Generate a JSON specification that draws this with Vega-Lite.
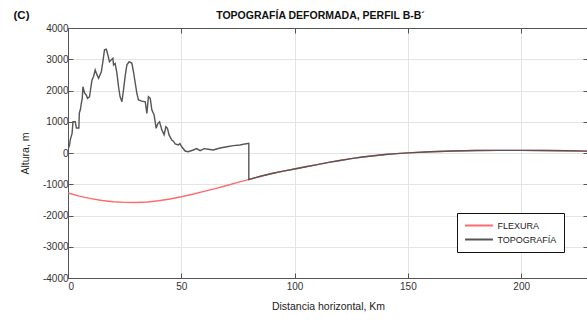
{
  "$schema": "https://vega.github.io/schema/vega-lite/v6.json",
  "autosize": "none",
  "width": 520,
  "height": 250,
  "padding": {"left": 68, "top": 28, "right": 0, "bottom": 42},
  "background": "white",
  "config": {
    "view": {"stroke": "#555", "strokeWidth": 1},
    "axis": {"labelFont": "Liberation Sans", "labelFontSize": 10, "labelColor": "#333", "titleFont": "Liberation Sans", "titleFontSize": 10.5, "titleFontWeight": "normal", "titleColor": "#222", "domainColor": "#555", "tickColor": "#555", "gridColor": "#e4e4e4", "tickSize": -5}
  },
  "data": {"values": [
    {"x": 0, "y": -1280, "s": "FLEXURA", "i": 0},
    {"x": 5, "y": -1380, "s": "FLEXURA", "i": 1},
    {"x": 10, "y": -1460, "s": "FLEXURA", "i": 2},
    {"x": 15, "y": -1520, "s": "FLEXURA", "i": 3},
    {"x": 20, "y": -1560, "s": "FLEXURA", "i": 4},
    {"x": 25, "y": -1580, "s": "FLEXURA", "i": 5},
    {"x": 30, "y": -1585, "s": "FLEXURA", "i": 6},
    {"x": 35, "y": -1570, "s": "FLEXURA", "i": 7},
    {"x": 40, "y": -1530, "s": "FLEXURA", "i": 8},
    {"x": 45, "y": -1470, "s": "FLEXURA", "i": 9},
    {"x": 50, "y": -1400, "s": "FLEXURA", "i": 10},
    {"x": 55, "y": -1320, "s": "FLEXURA", "i": 11},
    {"x": 60, "y": -1230, "s": "FLEXURA", "i": 12},
    {"x": 65, "y": -1140, "s": "FLEXURA", "i": 13},
    {"x": 70, "y": -1040, "s": "FLEXURA", "i": 14},
    {"x": 75, "y": -940, "s": "FLEXURA", "i": 15},
    {"x": 80, "y": -845, "s": "FLEXURA", "i": 16},
    {"x": 85, "y": -745, "s": "FLEXURA", "i": 17},
    {"x": 90, "y": -655, "s": "FLEXURA", "i": 18},
    {"x": 95, "y": -580, "s": "FLEXURA", "i": 19},
    {"x": 100, "y": -510, "s": "FLEXURA", "i": 20},
    {"x": 105, "y": -440, "s": "FLEXURA", "i": 21},
    {"x": 110, "y": -370, "s": "FLEXURA", "i": 22},
    {"x": 115, "y": -300, "s": "FLEXURA", "i": 23},
    {"x": 120, "y": -240, "s": "FLEXURA", "i": 24},
    {"x": 125, "y": -180, "s": "FLEXURA", "i": 25},
    {"x": 130, "y": -130, "s": "FLEXURA", "i": 26},
    {"x": 135, "y": -90, "s": "FLEXURA", "i": 27},
    {"x": 140, "y": -50, "s": "FLEXURA", "i": 28},
    {"x": 145, "y": -20, "s": "FLEXURA", "i": 29},
    {"x": 150, "y": 5, "s": "FLEXURA", "i": 30},
    {"x": 160, "y": 40, "s": "FLEXURA", "i": 31},
    {"x": 170, "y": 65, "s": "FLEXURA", "i": 32},
    {"x": 180, "y": 80, "s": "FLEXURA", "i": 33},
    {"x": 190, "y": 85, "s": "FLEXURA", "i": 34},
    {"x": 200, "y": 85, "s": "FLEXURA", "i": 35},
    {"x": 210, "y": 80, "s": "FLEXURA", "i": 36},
    {"x": 220, "y": 70, "s": "FLEXURA", "i": 37},
    {"x": 230, "y": 60, "s": "FLEXURA", "i": 38},

    {"x": 0.2, "y": 150, "s": "TOPOGRAFÍA", "i": 100},
    {"x": 0.7, "y": 260, "s": "TOPOGRAFÍA", "i": 101},
    {"x": 1, "y": 420, "s": "TOPOGRAFÍA", "i": 102},
    {"x": 1.8, "y": 630, "s": "TOPOGRAFÍA", "i": 103},
    {"x": 2.2, "y": 1000, "s": "TOPOGRAFÍA", "i": 104},
    {"x": 3.2, "y": 1000, "s": "TOPOGRAFÍA", "i": 105},
    {"x": 3.7, "y": 800, "s": "TOPOGRAFÍA", "i": 106},
    {"x": 4.8, "y": 800, "s": "TOPOGRAFÍA", "i": 107},
    {"x": 5, "y": 1280, "s": "TOPOGRAFÍA", "i": 108},
    {"x": 5.5, "y": 1400, "s": "TOPOGRAFÍA", "i": 109},
    {"x": 5.9, "y": 1600, "s": "TOPOGRAFÍA", "i": 110},
    {"x": 6.3, "y": 1750, "s": "TOPOGRAFÍA", "i": 111},
    {"x": 6.6, "y": 2120, "s": "TOPOGRAFÍA", "i": 112},
    {"x": 7.3, "y": 1920, "s": "TOPOGRAFÍA", "i": 113},
    {"x": 8.1, "y": 1850, "s": "TOPOGRAFÍA", "i": 114},
    {"x": 8.6, "y": 1750, "s": "TOPOGRAFÍA", "i": 115},
    {"x": 9.5, "y": 1800, "s": "TOPOGRAFÍA", "i": 116},
    {"x": 10.1, "y": 2100, "s": "TOPOGRAFÍA", "i": 117},
    {"x": 10.6, "y": 2340, "s": "TOPOGRAFÍA", "i": 118},
    {"x": 11.3, "y": 2450, "s": "TOPOGRAFÍA", "i": 119},
    {"x": 12, "y": 2660, "s": "TOPOGRAFÍA", "i": 120},
    {"x": 12.8, "y": 2500, "s": "TOPOGRAFÍA", "i": 121},
    {"x": 13.5, "y": 2390, "s": "TOPOGRAFÍA", "i": 122},
    {"x": 14.7, "y": 2600, "s": "TOPOGRAFÍA", "i": 123},
    {"x": 15.4, "y": 2920, "s": "TOPOGRAFÍA", "i": 124},
    {"x": 16.1, "y": 3300, "s": "TOPOGRAFÍA", "i": 125},
    {"x": 16.9, "y": 3320, "s": "TOPOGRAFÍA", "i": 126},
    {"x": 17.6, "y": 3140, "s": "TOPOGRAFÍA", "i": 127},
    {"x": 18.3, "y": 2920, "s": "TOPOGRAFÍA", "i": 128},
    {"x": 19.1, "y": 2980, "s": "TOPOGRAFÍA", "i": 129},
    {"x": 19.8, "y": 3030, "s": "TOPOGRAFÍA", "i": 130},
    {"x": 20.1, "y": 2820, "s": "TOPOGRAFÍA", "i": 131},
    {"x": 20.8, "y": 2870, "s": "TOPOGRAFÍA", "i": 132},
    {"x": 21.6, "y": 2550, "s": "TOPOGRAFÍA", "i": 133},
    {"x": 22.3, "y": 2120, "s": "TOPOGRAFÍA", "i": 134},
    {"x": 23, "y": 1800, "s": "TOPOGRAFÍA", "i": 135},
    {"x": 23.8, "y": 1640, "s": "TOPOGRAFÍA", "i": 136},
    {"x": 24.5, "y": 2020, "s": "TOPOGRAFÍA", "i": 137},
    {"x": 25.3, "y": 2500, "s": "TOPOGRAFÍA", "i": 138},
    {"x": 26, "y": 2820, "s": "TOPOGRAFÍA", "i": 139},
    {"x": 27, "y": 2920, "s": "TOPOGRAFÍA", "i": 140},
    {"x": 28.2, "y": 2870, "s": "TOPOGRAFÍA", "i": 141},
    {"x": 28.9, "y": 2600, "s": "TOPOGRAFÍA", "i": 142},
    {"x": 29.7, "y": 2230, "s": "TOPOGRAFÍA", "i": 143},
    {"x": 30.4, "y": 1910, "s": "TOPOGRAFÍA", "i": 144},
    {"x": 31.1, "y": 1700, "s": "TOPOGRAFÍA", "i": 145},
    {"x": 32.6, "y": 1660, "s": "TOPOGRAFÍA", "i": 146},
    {"x": 34.1, "y": 1640, "s": "TOPOGRAFÍA", "i": 147},
    {"x": 34.8, "y": 1270, "s": "TOPOGRAFÍA", "i": 148},
    {"x": 35.5, "y": 1800, "s": "TOPOGRAFÍA", "i": 149},
    {"x": 36.3, "y": 1750, "s": "TOPOGRAFÍA", "i": 150},
    {"x": 37, "y": 1380, "s": "TOPOGRAFÍA", "i": 151},
    {"x": 38, "y": 1220, "s": "TOPOGRAFÍA", "i": 152},
    {"x": 38.9, "y": 790, "s": "TOPOGRAFÍA", "i": 153},
    {"x": 39.7, "y": 950, "s": "TOPOGRAFÍA", "i": 154},
    {"x": 40.4, "y": 1000, "s": "TOPOGRAFÍA", "i": 155},
    {"x": 41.4, "y": 740, "s": "TOPOGRAFÍA", "i": 156},
    {"x": 42.4, "y": 580, "s": "TOPOGRAFÍA", "i": 157},
    {"x": 43.2, "y": 840, "s": "TOPOGRAFÍA", "i": 158},
    {"x": 43.9, "y": 790, "s": "TOPOGRAFÍA", "i": 159},
    {"x": 44.6, "y": 580, "s": "TOPOGRAFÍA", "i": 160},
    {"x": 45.8, "y": 416, "s": "TOPOGRAFÍA", "i": 161},
    {"x": 46.5, "y": 380, "s": "TOPOGRAFÍA", "i": 162},
    {"x": 47.3, "y": 290, "s": "TOPOGRAFÍA", "i": 163},
    {"x": 48.7, "y": 260, "s": "TOPOGRAFÍA", "i": 164},
    {"x": 49.4, "y": 300, "s": "TOPOGRAFÍA", "i": 165},
    {"x": 50.2, "y": 200, "s": "TOPOGRAFÍA", "i": 166},
    {"x": 51.7, "y": 64, "s": "TOPOGRAFÍA", "i": 167},
    {"x": 53.1, "y": 40, "s": "TOPOGRAFÍA", "i": 168},
    {"x": 55.3, "y": 96, "s": "TOPOGRAFÍA", "i": 169},
    {"x": 56.8, "y": 140, "s": "TOPOGRAFÍA", "i": 170},
    {"x": 58.3, "y": 75, "s": "TOPOGRAFÍA", "i": 171},
    {"x": 60.1, "y": 140, "s": "TOPOGRAFÍA", "i": 172},
    {"x": 61.9, "y": 120, "s": "TOPOGRAFÍA", "i": 173},
    {"x": 64.1, "y": 96, "s": "TOPOGRAFÍA", "i": 174},
    {"x": 67.1, "y": 160, "s": "TOPOGRAFÍA", "i": 175},
    {"x": 70.1, "y": 200, "s": "TOPOGRAFÍA", "i": 176},
    {"x": 73, "y": 235, "s": "TOPOGRAFÍA", "i": 177},
    {"x": 75.9, "y": 256, "s": "TOPOGRAFÍA", "i": 178},
    {"x": 78.1, "y": 290, "s": "TOPOGRAFÍA", "i": 179},
    {"x": 79.8, "y": 310, "s": "TOPOGRAFÍA", "i": 180},
    {"x": 79.8, "y": -850, "s": "TOPOGRAFÍA", "i": 181},
    {"x": 85, "y": -745, "s": "TOPOGRAFÍA", "i": 182},
    {"x": 90, "y": -655, "s": "TOPOGRAFÍA", "i": 183},
    {"x": 95, "y": -580, "s": "TOPOGRAFÍA", "i": 184},
    {"x": 100, "y": -510, "s": "TOPOGRAFÍA", "i": 185},
    {"x": 105, "y": -440, "s": "TOPOGRAFÍA", "i": 186},
    {"x": 110, "y": -370, "s": "TOPOGRAFÍA", "i": 187},
    {"x": 115, "y": -300, "s": "TOPOGRAFÍA", "i": 188},
    {"x": 120, "y": -240, "s": "TOPOGRAFÍA", "i": 189},
    {"x": 125, "y": -180, "s": "TOPOGRAFÍA", "i": 190},
    {"x": 130, "y": -130, "s": "TOPOGRAFÍA", "i": 191},
    {"x": 135, "y": -90, "s": "TOPOGRAFÍA", "i": 192},
    {"x": 140, "y": -50, "s": "TOPOGRAFÍA", "i": 193},
    {"x": 145, "y": -20, "s": "TOPOGRAFÍA", "i": 194},
    {"x": 150, "y": 5, "s": "TOPOGRAFÍA", "i": 195},
    {"x": 160, "y": 40, "s": "TOPOGRAFÍA", "i": 196},
    {"x": 170, "y": 65, "s": "TOPOGRAFÍA", "i": 197},
    {"x": 180, "y": 80, "s": "TOPOGRAFÍA", "i": 198},
    {"x": 190, "y": 85, "s": "TOPOGRAFÍA", "i": 199},
    {"x": 200, "y": 85, "s": "TOPOGRAFÍA", "i": 200},
    {"x": 210, "y": 80, "s": "TOPOGRAFÍA", "i": 201},
    {"x": 220, "y": 70, "s": "TOPOGRAFÍA", "i": 202},
    {"x": 230, "y": 60, "s": "TOPOGRAFÍA", "i": 203}
  ]},
  "layer": [
    {
      "mark": {"type": "line", "strokeWidth": 1.4, "clip": true},
      "encoding": {
        "x": {"field": "x", "type": "quantitative", "scale": {"domain": [0, 229.5], "nice": false, "zero": false},
          "axis": {"title": "Distancia horizontal, Km", "values": [0, 50, 100, 150, 200], "labelPadding": 8, "titlePadding": 10, "grid": true}},
        "y": {"field": "y", "type": "quantitative", "scale": {"domain": [-4000, 4000], "nice": false},
          "axis": {"title": "Altura, m", "values": [-4000, -3000, -2000, -1000, 0, 1000, 2000, 3000, 4000], "labelExpr": "datum.value + ''", "labelPadding": 5, "titlePadding": 12, "grid": true}},
        "order": {"field": "i", "type": "quantitative"},
        "color": {"field": "s", "type": "nominal", "scale": {"domain": ["FLEXURA", "TOPOGRAFÍA"], "range": ["#ff6b6b", "#555555"]},
          "legend": {"title": null, "orient": "none", "legendX": 389, "legendY": 185, "symbolType": "M-3.1,0H3.1", "symbolSize": 81, "symbolStrokeWidth": 2, "symbolOffset": 9.5, "strokeColor": "#111", "fillColor": "white", "padding": 7, "labelFont": "Liberation Sans", "labelFontSize": 9, "labelColor": "#222", "rowPadding": 3, "labelOffset": 13}}
      }
    },
    {
      "mark": {"type": "line", "opacity": 0},
      "encoding": {
        "x": {"field": "x", "type": "quantitative", "axis": {"orient": "top", "labels": false, "grid": false, "values": [0, 50, 100, 150, 200], "title": "TOPOGRAFÍA DEFORMADA, PERFIL B-B´", "titleFont": "Liberation Sans", "titleFontSize": 10.5, "titleFontWeight": "bold", "titleColor": "#111", "titleX": 252, "titleY": -10, "titleAlign": "center", "titleBaseline": "alphabetic"}},
        "y": {"field": "y", "type": "quantitative", "axis": {"orient": "right", "labels": false, "grid": false, "values": [-4000, -3000, -2000, -1000, 0, 1000, 2000, 3000, 4000], "title": "(C)", "titleFont": "Liberation Sans", "titleFontSize": 11.5, "titleFontWeight": "bold", "titleColor": "#111", "titleAngle": 0, "titleX": -575, "titleY": -10, "titleAlign": "left", "titleBaseline": "alphabetic"}},
        "detail": {"field": "s"}
      }
    }
  ],
  "resolve": {"axis": {"x": "independent", "y": "independent"}}
}
